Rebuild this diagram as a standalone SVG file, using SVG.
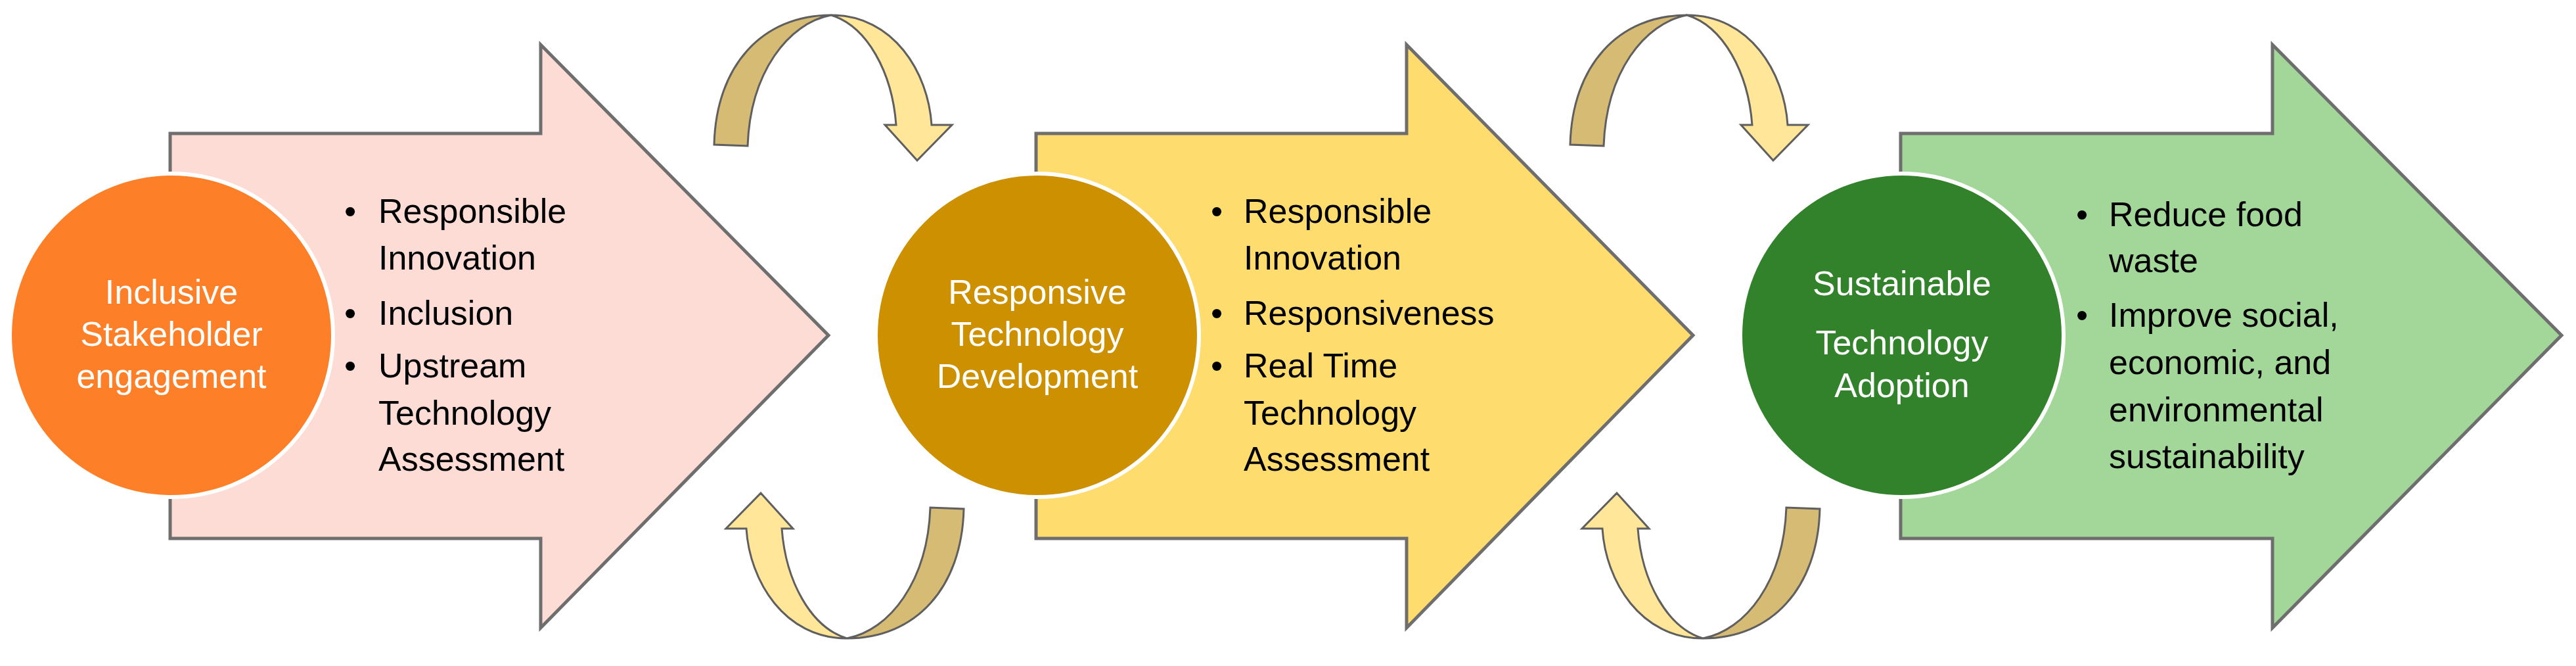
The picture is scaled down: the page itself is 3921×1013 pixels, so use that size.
<svg xmlns="http://www.w3.org/2000/svg" width="3921" height="1013" viewBox="0 0 3921 1013">
<style>
.arr{stroke:#6e6e6e;stroke-width:5;stroke-linejoin:miter}
.circ{stroke:#ffffff;stroke-width:6}
.lbl{font-family:"Liberation Sans",Arial,sans-serif;font-size:52px;fill:#ffffff;text-anchor:middle}
.bul{font-family:"Liberation Sans",Arial,sans-serif;font-size:52px;fill:#000000}
.dk{fill:#d6bb75;stroke:#5f5f5f;stroke-width:3}
.lt{fill:#ffe699;stroke:#5f5f5f;stroke-width:3}
</style>
<defs>
<g id="loop">
<path class="dk" d="M1087,220 C1090,100 1160,23 1265,23 C1200,35 1142,110 1138,222 Z"/>
<path class="lt" d="M1265,23 C1360,23 1413,110 1418,190 L1449,190 L1396,244 L1347,190 L1364,190 C1358,110 1320,40 1265,23 Z"/>
</g>
</defs>
<g id="connectors">
<use href="#loop"/>
<use href="#loop" transform="rotate(180 1277 497)"/>
<use href="#loop" transform="translate(1303 0)"/>
<use href="#loop" transform="translate(1303 0) rotate(180 1277 497)"/>
</g>
<g id="stage1">
<path class="arr" fill="#fddcd5" d="M259,203 L823,203 L823,68 L1261,510 L823,955 L823,819 L259,819 Z"/>
<circle class="circ" fill="#fd7f28" cx="261" cy="510" r="246"/>
<text class="lbl" x="261" y="462">Inclusive</text>
<text class="lbl" x="261" y="526">Stakeholder</text>
<text class="lbl" x="261" y="590">engagement</text>
<text class="bul" x="524" y="339">•</text><text class="bul" x="576" y="339">Responsible</text>
<text class="bul" x="576" y="410">Innovation</text>
<text class="bul" x="524" y="494">•</text><text class="bul" x="576" y="494">Inclusion</text>
<text class="bul" x="524" y="574">•</text><text class="bul" x="576" y="574">Upstream</text>
<text class="bul" x="576" y="646">Technology</text>
<text class="bul" x="576" y="716">Assessment</text>
</g>
<g id="stage2">
<path class="arr" fill="#ffdc6e" d="M1577,203 L2141,203 L2141,68 L2577,510 L2141,955 L2141,819 L1577,819 Z"/>
<circle class="circ" fill="#cc9000" cx="1579" cy="510" r="246"/>
<text class="lbl" x="1579" y="462">Responsive</text>
<text class="lbl" x="1579" y="526">Technology</text>
<text class="lbl" x="1579" y="590">Development</text>
<text class="bul" x="1843" y="339">•</text><text class="bul" x="1893" y="339">Responsible</text>
<text class="bul" x="1893" y="410">Innovation</text>
<text class="bul" x="1843" y="494">•</text><text class="bul" x="1893" y="494">Responsiveness</text>
<text class="bul" x="1843" y="574">•</text><text class="bul" x="1893" y="574">Real Time</text>
<text class="bul" x="1893" y="646">Technology</text>
<text class="bul" x="1893" y="716">Assessment</text>
</g>
<g id="stage3">
<path class="arr" fill="#a2d799" d="M2893,203 L3459,203 L3459,68 L3899,510 L3459,955 L3459,819 L2893,819 Z"/>
<circle class="circ" fill="#31822b" cx="2895" cy="510" r="246"/>
<text class="lbl" x="2895" y="449">Sustainable</text>
<text class="lbl" x="2895" y="539">Technology</text>
<text class="lbl" x="2895" y="604">Adoption</text>
<text class="bul" x="3160" y="344">•</text><text class="bul" x="3210" y="344">Reduce food</text>
<text class="bul" x="3210" y="414">waste</text>
<text class="bul" x="3160" y="497">•</text><text class="bul" x="3210" y="497">Improve social,</text>
<text class="bul" x="3210" y="569">economic, and</text>
<text class="bul" x="3210" y="641">environmental</text>
<text class="bul" x="3210" y="712">sustainability</text>
</g>
</svg>
